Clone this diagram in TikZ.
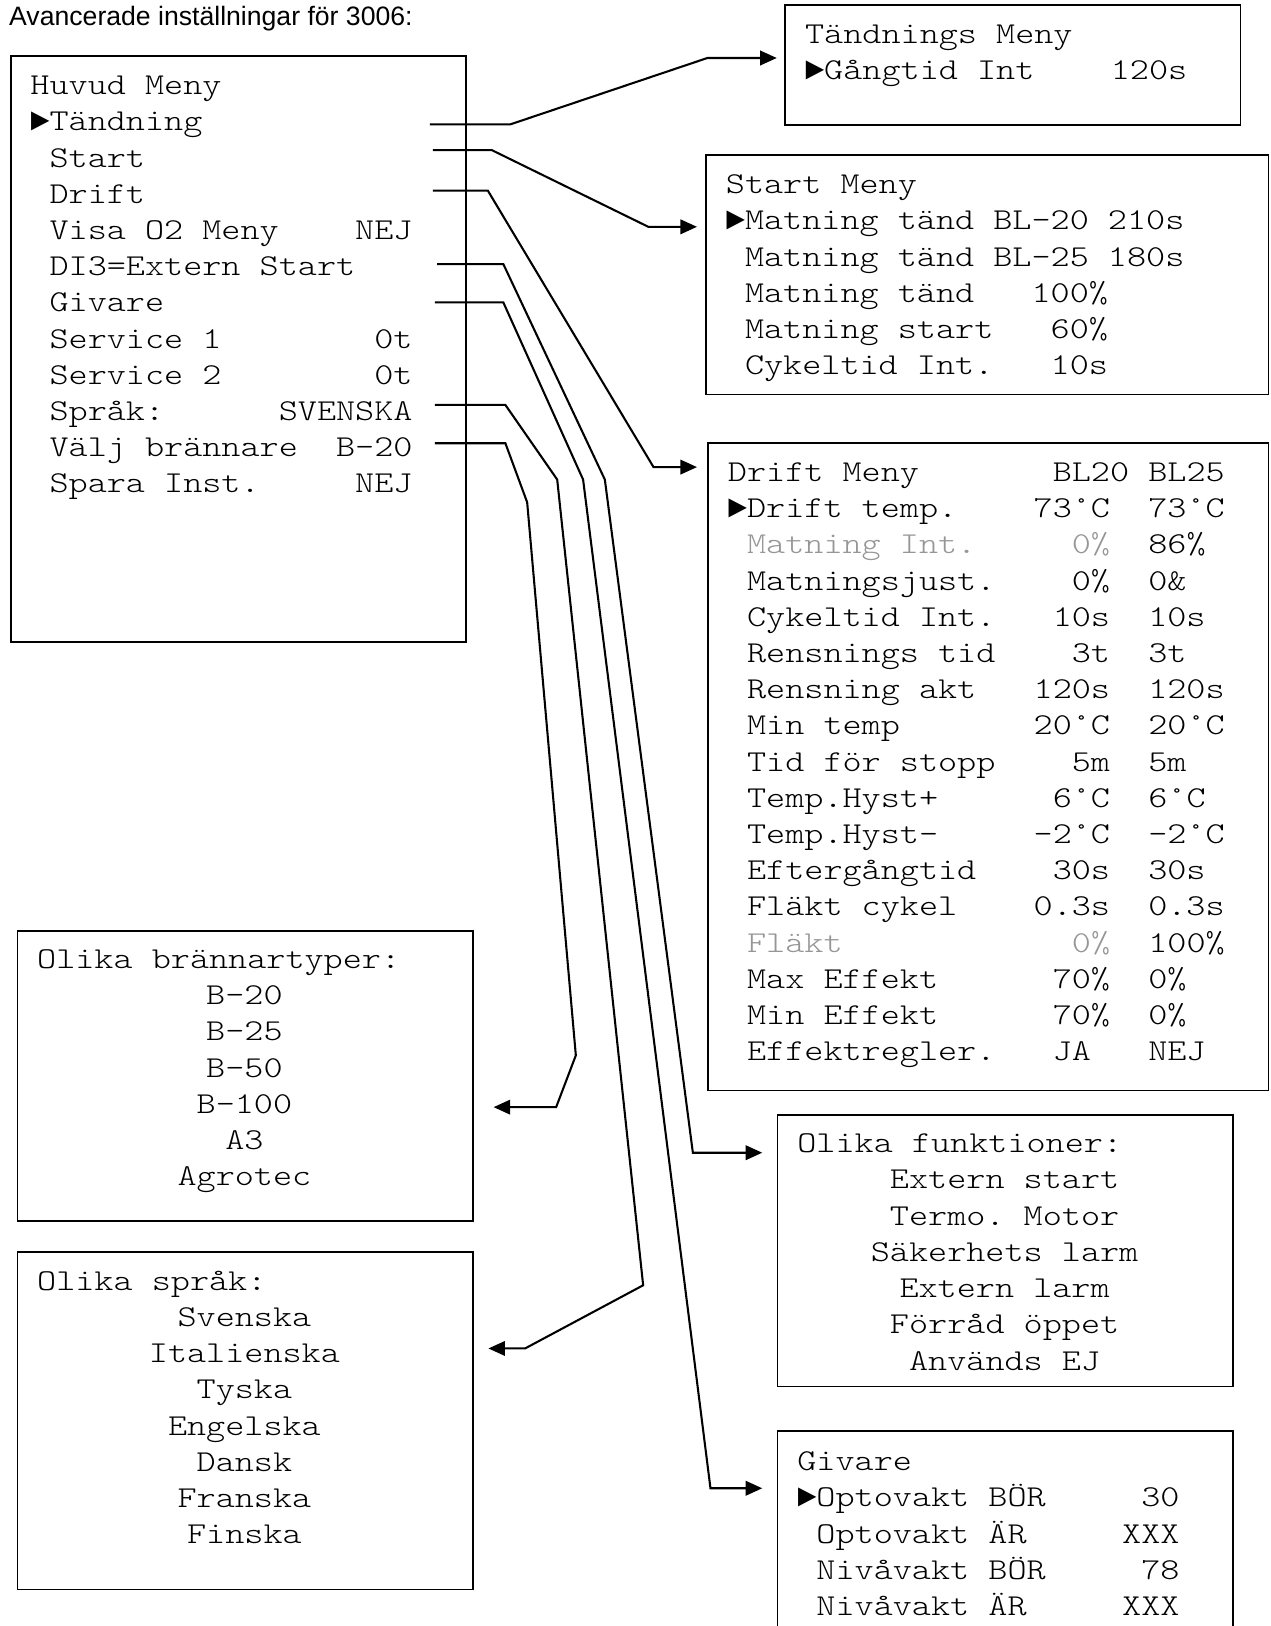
\documentclass[tikz,border=0pt]{standalone}
\usepackage{fontspec}
\setmainfont{Liberation Sans}
\newfontfamily\monolm[FakeStretch=1.2]{lmmonolt10-regular.otf}
\newfontfamily\monolib{Liberation Mono}
\newcommand{\ptr}{{\monolib\fontsize{15.375}{17}\selectfont ►}}
\newcommand{\monosetup}{\monolm\fontsize{14.64}{17}\selectfont\frenchspacing\fontdimen2\font=9.225pt\fontdimen3\font=0pt\fontdimen4\font=0pt\fontdimen7\font=0pt}
\usetikzlibrary{arrows.meta}
\definecolor{dimtext}{RGB}{150,150,150}
\tikzset{
  box/.style={draw, line width=0.8pt, inner sep=0pt},
  rowtxt/.style={anchor=base west, inner sep=0pt, font=\monosetup},
  rowctr/.style={rowtxt, anchor=base},
  conn/.style={line width=1pt, -{Triangle[length=8pt,width=7pt]}},
  titletxt/.style={anchor=base west, inner sep=0pt, font=\fontsize{12.85}{15}\selectfont}
}
\newcommand{\menubox}[5]{\node[box, anchor=north west, minimum width={(#4-#2)*0.5pt}, minimum height={(#5-#3)*0.5pt}] (#1) at (#2,#3) {};}
\newcommand{\menurows}[5]{\foreach \rowtext [count=\ri from 0] in {#5}{\node[rowtxt] (#1-\ri) at (#2,{#3+\ri*#4}) {\rowtext};}}
\newcommand{\centerrows}[5]{\foreach \rowtext [count=\ri from 1] in {#5}{\node[rowctr] (#1-\ri) at (#2,{#3+\ri*#4}) {\rowtext};}}
\begin{document}
\begin{tikzpicture}[x=0.5pt,y=-0.5pt]
\useasboundingbox (0,0) rectangle (1227,1570);
\fill[white] (0,0) rectangle (1227,1570);
\clip (0,0) rectangle (1227,1570);

\node[titletxt] (title) at (8.5,24.5) {Avancerade inställningar för 3006:};

% boxes
\menubox{huvud}{10}{53}{449}{619}
\menubox{tand}{757}{4}{1197}{120}
\menubox{start}{681}{149}{1224}{380}
\menubox{drift}{683}{427}{1224}{1052}
\menubox{brann}{16}{898}{456}{1178}
\menubox{sprak}{16}{1208}{456}{1534}
\menubox{funk}{750}{1076}{1190}{1338}
\menubox{givare}{750}{1381}{1190}{1600}

% texts
\menurows{hm}{29}{91.5}{34.93}{Huvud~Meny,\ptr Tändning,~Start,~Drift,~Visa~O2~Meny~~~~NEJ,~DI3=Extern~Start,~Givare,~Service~1~~~~~~~~0t,~Service~2~~~~~~~~0t,~Språk:~~~~~~SVENSKA,~Välj~brännare~~B-20,~Spara~Inst.~~~~~NEJ}
\menurows{tm}{777}{42}{35}{Tändnings~Meny,\ptr Gångtid~Int~~~~120s}
\menurows{sm}{700.5}{187}{34.93}{Start~Meny,\ptr Matning~tänd~BL-20~210s,~Matning~tänd~BL-25~180s,~Matning~tänd~~~100\%,~Matning~start~~~60\%,~Cykeltid~Int.~~~10s}
\menurows{dm}{702.5}{465}{34.94}{Drift~Meny~~~~~~~BL20~BL25,\ptr Drift~temp.~~~~73°C~~73°C,{\color{dimtext}~Matning~Int.~~~~~0\%}~~86\%,~Matningsjust.~~~~0\%~~0\&,~Cykeltid~Int.~~~10s~~10s,~Rensnings~tid~~~~3t~~3t,~Rensning~akt~~~120s~~120s,~Min~temp~~~~~~~20°C~~20°C,~Tid~för~stopp~~~~5m~~5m,~Temp.Hyst+~~~~~~6°C~~6°C,~Temp.Hyst-~~~~~-2°C~~-2°C,~Eftergångtid~~~~30s~~30s,~Fläkt~cykel~~~~0.3s~~0.3s,{\color{dimtext}~Fläkt~~~~~~~~~~~~0\%}~~100\%,~Max~Effekt~~~~~~70\%~~0\%,~Min~Effekt~~~~~~70\%~~0\%,~Effektregler.~~~JA~~~NEJ}
\menurows{gv}{769.5}{1420}{35}{Givare,\ptr Optovakt~BÖR~~~~~30,~Optovakt~ÄR~~~~~XXX,~Nivåvakt~BÖR~~~~~78,~Nivåvakt~ÄR~~~~~XXX}

\node[rowtxt] (brann-0) at (35.5,935) {Olika brännartyper:};
\centerrows{brann}{236}{935}{35}{B-20,B-25,B-50,B-100,A3,Agrotec}
\node[rowtxt] (sprak-0) at (35.5,1246) {Olika språk:};
\centerrows{sprak}{236}{1246}{34.9}{Svenska,Italienska,Tyska,Engelska,Dansk,Franska,Finska}
\node[rowtxt] (funk-0) at (769.5,1113) {Olika funktioner:};
\centerrows{funk}{970}{1113}{35}{Extern~start,Termo.~Motor,Säkerhets~larm,Extern~larm,Förråd~öppet,Används~EJ}

% connector start points
\coordinate (cT) at (415,120);
\coordinate (cS) at (418,145);
\coordinate (cD) at (418,184);
\coordinate (cE) at (422,255);
\coordinate (cG) at (420,292);
\coordinate (cL) at (420,391);
\coordinate (cB) at (420,428);

\draw[conn, shorten >=3.5pt] (cT) -- (493,120) -- (683,56) -- (tand.west |- 0,56);
\draw[conn, shorten >=4pt] (cS) -- (475,145) -- (626,219) -- (start.west |- 0,219);
\draw[conn, shorten >=5pt] (cD) -- (471,184) -- (631,451) -- (drift.west |- 0,451);
\draw[conn, shorten >=7pt] (cE) -- (486,255) -- (584,463) -- (669,1113) -- (funk.west |- 0,1113);
\draw[conn, shorten >=7pt] (cG) -- (486,292) -- (563,463) -- (686,1437) -- (givare.west |- 0,1437);
\draw[conn, shorten >=7pt] (cL) -- (488,391) -- (538,463) -- (621,1241) -- (507,1302) -- (sprak.east |- 0,1302);
\draw[conn, shorten >=9.5pt] (cB) -- (488,428) -- (509,485) -- (556,1019) -- (537,1069) -- (brann.east |- 0,1069);
\end{tikzpicture}
\end{document}
